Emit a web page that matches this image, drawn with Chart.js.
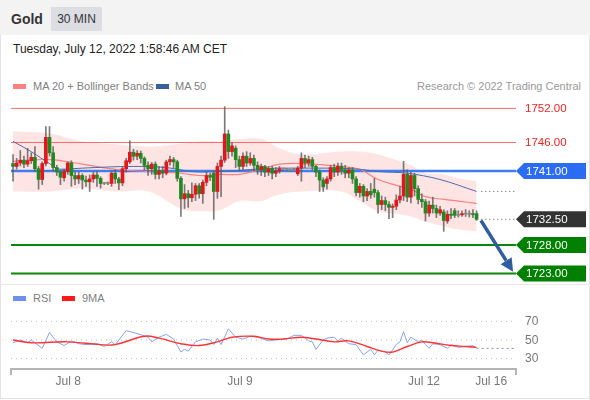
<!DOCTYPE html>
<html>
<head>
<meta charset="utf-8">
<script src="https://cdn.jsdelivr.net/npm/chart.js@4.4.0/dist/chart.umd.min.js"></script>
<style>
  html,body{margin:0;padding:0;background:#fff}
  body{width:590px;height:400px;position:relative;overflow:hidden;font-family:"Liberation Sans",Arial,sans-serif}
  .abs{position:absolute;white-space:nowrap}
  #frame{left:0;top:0;width:588px;height:397px;border:1px solid #e4e4e4}
  #head{left:0;top:0;width:590px;height:35px;background:#f3f3f3}
  #title{left:11px;top:11px;font-size:14px;line-height:16px;font-weight:bold;color:#333}
  #tf{left:51px;top:7px;width:51px;height:24px;line-height:24px;text-align:center;background:#dcdee3;font-size:12px;color:#333}
  #date{left:13px;top:42px;font-size:12px;line-height:14px;color:#222}
  .leg{font-size:11px;line-height:12px;color:#808080}
  .sw{width:13px;height:5px}
  #sep{left:0;top:284px;width:590px;height:1px;background:#e8e8e8}
  canvas{position:absolute;left:0}
</style>
</head>
<body>
<div id="frame" class="abs"></div>
<div id="head" class="abs"></div>
<div id="title" class="abs">Gold</div>
<div id="tf" class="abs">30 MIN</div>
<div id="date" class="abs">Tuesday, July 12, 2022 1:58:46 AM CET</div>

<div class="abs sw" style="left:13px;top:84px;background:#ff8080"></div>
<div class="abs leg" style="left:33px;top:80px">MA 20 + Bollinger Bands</div>
<div class="abs sw" style="left:156px;top:84px;background:#3a5f9f"></div>
<div class="abs leg" style="left:175px;top:80px">MA 50</div>
<div class="abs leg" style="right:9px;top:80px;color:#9a9a9a">Research © 2022 Trading Central</div>

<div id="sep" class="abs"></div>
<div class="abs sw" style="left:13px;top:296px;background:#6f8ff0"></div>
<div class="abs leg" style="left:33px;top:292px">RSI</div>
<div class="abs sw" style="left:62px;top:296px;background:#ff1a1a"></div>
<div class="abs leg" style="left:82px;top:292px">9MA</div>

<canvas id="price" width="590" height="190" style="top:95px"></canvas>
<canvas id="rsi" width="590" height="92" style="top:305px"></canvas>

<script>
// 30 min candles, oldest first
const opens = [
  1742.3, 1741.8, 1742.4, 1742.9, 1742.2, 1742.8, 1743.4, 1741.4, 1739.5, 1742.3,
  1746.9, 1744.2, 1741.6, 1740.8, 1739.8, 1740.9, 1742.4, 1740.2, 1739.6, 1740.2,
  1739.4, 1739.1, 1739.6, 1740.3, 1739.7, 1738.8, 1738.9, 1738.8, 1740.6, 1739.6,
  1738.9, 1741.4, 1742.6, 1744.3, 1743.6, 1744.1, 1743.2, 1742.0, 1741.4, 1742.2,
  1740.4, 1741.0, 1740.6, 1742.6, 1743.0, 1742.6, 1739.7, 1736.1, 1737.0, 1736.3,
  1736.9, 1738.4, 1737.0, 1739.0, 1740.2, 1740.6, 1737.4, 1741.8, 1742.9, 1747.5,
  1744.4, 1745.0, 1743.0, 1741.8, 1743.6, 1742.4, 1743.2, 1742.0, 1741.2, 1741.8,
  1740.8, 1741.4, 1740.6, 1741.0, 1741.4, 1741.3, 1741.2, 1741.1, 1740.5, 1741.5,
  1743.2, 1742.4, 1743.0, 1741.8, 1740.8, 1739.4, 1738.8, 1739.6, 1741.6, 1740.8,
  1741.8, 1741.2, 1740.6, 1741.2, 1739.6, 1737.2, 1738.3, 1736.6, 1737.4, 1737.8,
  1737.2, 1735.1, 1735.8, 1735.1, 1734.6, 1734.8, 1735.9, 1736.6, 1740.4, 1736.4,
  1740.2, 1737.9, 1736.0, 1735.6, 1733.6, 1735.0, 1734.4, 1733.6, 1733.8, 1732.2,
  1733.4, 1734.0, 1733.2, 1733.3, 1733.5, 1733.4, 1733.5, 1733.5
];
const highs = [
  1743.9, 1743.2, 1744.6, 1743.6, 1745.0, 1744.2, 1745.3, 1741.8, 1742.6, 1748.8,
  1748.8, 1745.3, 1742.0, 1741.0, 1741.3, 1742.6, 1742.8, 1740.9, 1740.8, 1740.5,
  1740.1, 1740.3, 1740.8, 1740.9, 1740.0, 1739.0, 1739.1, 1740.9, 1741.2, 1739.9,
  1741.7, 1743.2, 1746.3, 1744.8, 1744.6, 1744.5, 1743.5, 1742.6, 1742.5, 1742.6,
  1741.8, 1741.8, 1742.9, 1743.6, 1743.4, 1742.9, 1740.0, 1738.6, 1737.6, 1738.9,
  1738.8, 1738.8, 1739.4, 1740.8, 1740.6, 1741.0, 1742.4, 1743.6, 1752.3, 1748.2,
  1746.0, 1745.4, 1743.6, 1744.2, 1744.4, 1744.2, 1743.8, 1742.6, 1742.2, 1742.0,
  1741.8, 1741.8, 1741.6, 1741.8, 1741.5, 1741.4, 1741.3, 1741.4, 1741.8, 1744.2,
  1743.8, 1743.6, 1743.4, 1742.0, 1741.2, 1739.8, 1740.0, 1742.0, 1742.2, 1742.4,
  1742.4, 1742.0, 1741.6, 1741.6, 1740.0, 1738.8, 1738.6, 1737.9, 1738.8, 1739.7,
  1737.6, 1736.6, 1736.4, 1735.6, 1735.2, 1736.8, 1738.3, 1742.7, 1741.2, 1740.8,
  1740.6, 1738.4, 1737.0, 1736.0, 1735.7, 1736.4, 1735.0, 1734.8, 1734.2, 1734.0,
  1734.4, 1734.4, 1734.0, 1734.0, 1734.2, 1734.0, 1734.2, 1734.0
];
const lows = [
  1739.2, 1741.3, 1741.9, 1741.6, 1741.8, 1742.3, 1740.9, 1737.8, 1738.6, 1741.9,
  1743.6, 1741.0, 1740.2, 1738.6, 1739.2, 1740.4, 1738.3, 1738.6, 1738.8, 1737.8,
  1738.3, 1737.4, 1739.0, 1738.3, 1738.0, 1738.6, 1738.6, 1738.3, 1738.8, 1737.7,
  1738.4, 1740.8, 1742.3, 1742.9, 1743.0, 1742.4, 1741.2, 1740.2, 1740.4, 1739.6,
  1739.6, 1739.8, 1740.3, 1742.0, 1741.6, 1739.2, 1733.0, 1734.4, 1734.6, 1735.6,
  1735.8, 1736.2, 1735.3, 1738.4, 1739.3, 1732.5, 1736.2, 1736.5, 1742.5, 1743.2,
  1743.6, 1741.6, 1741.2, 1741.2, 1741.8, 1742.0, 1741.0, 1740.4, 1740.2, 1740.0,
  1740.2, 1739.6, 1740.0, 1740.6, 1741.1, 1741.1, 1741.0, 1741.0, 1740.2, 1739.2,
  1741.6, 1741.8, 1741.2, 1740.0, 1737.4, 1737.4, 1737.8, 1739.2, 1740.0, 1740.2,
  1740.4, 1739.8, 1739.8, 1738.8, 1736.6, 1736.4, 1735.6, 1735.8, 1736.2, 1736.4,
  1733.6, 1734.2, 1734.0, 1732.6, 1732.8, 1734.2, 1735.4, 1735.8, 1735.6, 1735.4,
  1736.6, 1735.2, 1734.6, 1732.2, 1733.0, 1733.6, 1732.8, 1733.2, 1730.4, 1731.8,
  1732.6, 1732.8, 1732.9, 1733.0, 1733.0, 1732.9, 1732.8, 1732.3
];
const closes = [
  1741.8, 1742.4, 1742.9, 1742.2, 1742.8, 1743.4, 1741.4, 1739.5, 1742.3, 1746.9,
  1744.2, 1741.6, 1740.8, 1739.9, 1740.9, 1742.4, 1740.2, 1739.6, 1740.2, 1739.4,
  1739.1, 1739.6, 1740.3, 1739.7, 1738.8, 1738.8, 1738.8, 1740.6, 1739.6, 1738.9,
  1741.4, 1742.8, 1744.3, 1743.6, 1744.1, 1743.2, 1742.0, 1741.4, 1742.2, 1740.4,
  1741.0, 1740.6, 1742.6, 1743.0, 1742.6, 1739.7, 1736.1, 1737.0, 1736.3, 1736.9,
  1738.4, 1737.0, 1739.0, 1740.2, 1739.9, 1737.4, 1741.8, 1742.9, 1747.5, 1744.4,
  1745.4, 1743.0, 1741.8, 1743.6, 1742.4, 1743.2, 1742.0, 1741.2, 1741.8, 1740.8,
  1741.4, 1740.6, 1741.0, 1741.4, 1741.3, 1741.2, 1741.1, 1741.2, 1741.5, 1743.2,
  1742.4, 1743.0, 1741.8, 1740.8, 1739.4, 1738.2, 1739.6, 1741.6, 1740.8, 1741.8,
  1741.2, 1740.6, 1741.2, 1739.6, 1737.2, 1738.3, 1736.6, 1737.4, 1736.8, 1737.2,
  1735.1, 1735.8, 1735.1, 1734.6, 1734.8, 1735.9, 1736.6, 1740.4, 1736.4, 1740.2,
  1737.9, 1736.0, 1735.6, 1733.6, 1735.0, 1734.4, 1733.6, 1734.2, 1732.3, 1733.4,
  1733.2, 1733.2, 1733.3, 1733.5, 1733.4, 1733.5, 1733.3, 1732.5
];

// indicators, sampled at candle index
const bandIdx   = [0, 10, 19, 28, 37, 46, 51, 57, 62, 68, 73, 79, 90, 95, 100, 106, 109, 113, 118, 122, 127];
const upperBand = [1748.0, 1747.6, 1746.2, 1745.7, 1745.3, 1745.8, 1746.2, 1746.2, 1746.6, 1746.6, 1745.0, 1743.9, 1744.4, 1744.4, 1743.9, 1742.7, 1742.0, 1740.6, 1740.4, 1739.7, 1739.2];
const lowerBand = [1737.4, 1737.4, 1737.9, 1737.4, 1737.4, 1734.4, 1733.9, 1734.2, 1735.7, 1735.7, 1736.9, 1737.4, 1737.4, 1735.7, 1733.9, 1733.4, 1733.0, 1732.1, 1731.3, 1730.7, 1730.4];
const ma20      = [1742.7, 1743.0, 1742.2, 1741.3, 1740.9, 1740.6, 1740.2, 1740.4, 1740.4, 1741.3, 1742.2, 1742.3, 1741.8, 1741.3, 1739.5, 1738.3, 1737.8, 1736.5, 1736.0, 1735.7, 1735.3];
const ma50Idx   = [0, 5, 10, 13, 19, 33, 42, 51, 57, 73, 87, 95, 100, 108, 117, 127];
const ma50      = [1746.2, 1744.4, 1742.3, 1741.3, 1741.5, 1741.8, 1741.6, 1740.8, 1740.9, 1741.5, 1741.5, 1741.3, 1740.9, 1740.6, 1739.5, 1737.4];

// levels
const resistLevels = [1752.00, 1746.00];
const pivotLevel = 1741.00;
const lastPrice = 1732.50;
const supportLevels = [1728.00, 1723.00];
const arrowFrom = [128.2, 1732.3];
const arrowTo = [137.0, 1723.3];

// RSI panel
const rsiIdx = [0,2,4,5,8,10,12,14,16,18,20,23,25,27,28,31,34,37,38,40,42,44,46,47,48,50,52,54,55,56,57,59,61,63,65,67,70,72,75,77,79,81,82,83,85,86,88,89,90,92,94,96,98,99,100,102,103,105,106,107,108,109,111,112,113,114,115,117,119,120,122,124,126,127];
const rsiValues = [47,50,47,50,41,58,48,44,49,46,45,46,43,48,45,60,57,53,48,53,56,51,37,40,38,48,51,50,45,52,45,62,53,51,54,53,49,50,51,55,55,49,48,40,50,52,53,49,52,46,45,34,40,34,39,37,34,45,48,59,47,53,48,50,45,41,46,45,41,45,42,43,44,41];
const rsiMaIdx = [0,5,15,24,28,36,40,46,51,56,60,66,70,74,79,83,88,92,97,101,104,108,112,115,120,124,127];
const rsiMa = [50,47,48,45,45,54,52,46,44,48,53,54,51,51,53,51,48,49,43,38,37,43,48,47,44,43,42];
const rsiTicks = [70, 50, 30];

// x axis
const dayIdx = [15.1, 62.2, 112.6, 131];
const dayLabels = ['Jul 8', 'Jul 9', 'Jul 12', 'Jul 16'];

const xMin = -0.55, xMax = 137.8;
const extStart = 128.3;

let pts = (xs, ys) => xs.map((v, i) => ({x: v, y: ys[i]}));
let hline = (v, color, w, dash, from) => ({
  type: 'line', data: [{x: from ?? xMin, y: v}, {x: xMax, y: v}],
  borderColor: color, borderWidth: w, borderDash: dash || [], pointRadius: 0, order: 15
});

let candleIdx = closes.map((_, i) => i);
let candleColor = closes.map((c, i) => Math.abs(c - opens[i]) < 0.15 ? '#8a8a8a' : (c > opens[i] ? '#e3161c' : '#1f8a1f'));

function tag(ctx, px, py, color, text) {
  ctx.fillStyle = color;
  ctx.beginPath();
  ctx.moveTo(px, py);
  ctx.lineTo(px + 8, py - 8);
  ctx.lineTo(px + 70, py - 8);
  ctx.lineTo(px + 70, py + 8);
  ctx.lineTo(px + 8, py + 8);
  ctx.closePath();
  ctx.fill();
  ctx.fillStyle = '#fff';
  ctx.fillText(text, px + 10, py + 0.5);
}

const priceLabels = {
  id: 'priceLabels',
  afterDatasetsDraw(chart) {
    const {ctx, scales: {x, y}} = chart;
    ctx.save();
    ctx.font = '11.5px "Liberation Sans", Arial, sans-serif';
    ctx.textBaseline = 'middle';
    ctx.textAlign = 'left';
    resistLevels.forEach(v => {
      ctx.fillStyle = '#f0241f';
      ctx.fillText(v.toFixed(2), x.right + 9, y.getPixelForValue(v) + 0.5);
    });
    tag(ctx, x.right, y.getPixelForValue(pivotLevel), '#2a6cf3', pivotLevel.toFixed(2));
    tag(ctx, x.right, y.getPixelForValue(lastPrice), '#333333', lastPrice.toFixed(2));
    supportLevels.forEach(v => tag(ctx, x.right, y.getPixelForValue(v), '#008000', v.toFixed(2)));

    // arrow
    let x0 = x.getPixelForValue(arrowFrom[0]), y0 = y.getPixelForValue(arrowFrom[1]);
    let x1 = x.getPixelForValue(arrowTo[0]), y1 = y.getPixelForValue(arrowTo[1]);
    let a = Math.atan2(y1 - y0, x1 - x0), hl = 13, hw = 6.5;
    let bx = x1 - hl * Math.cos(a), by = y1 - hl * Math.sin(a);
    ctx.strokeStyle = '#2f5e9e';
    ctx.fillStyle = '#2f5e9e';
    ctx.lineWidth = 3.5;
    ctx.beginPath(); ctx.moveTo(x0, y0); ctx.lineTo(bx, by); ctx.stroke();
    ctx.beginPath();
    ctx.moveTo(x1, y1);
    ctx.lineTo(bx + hw * Math.sin(a), by - hw * Math.cos(a));
    ctx.lineTo(bx - hw * Math.sin(a), by + hw * Math.cos(a));
    ctx.closePath(); ctx.fill();
    ctx.restore();
  }
};

new Chart(document.getElementById('price').getContext('2d'), {
  type: 'bar',
  data: {
    datasets: [
      { type: 'line', data: pts(bandIdx, upperBand), borderWidth: 0, pointRadius: 0, tension: 0.4,
        fill: '+1', backgroundColor: 'rgba(255,165,165,0.3)', order: 30 },
      { type: 'line', data: pts(bandIdx, lowerBand), borderWidth: 0, pointRadius: 0, tension: 0.4, order: 31 },
      hline(resistLevels[0], '#ff6b6b', 1),
      hline(resistLevels[1], '#ff6b6b', 1),
      hline(pivotLevel, '#3f7ef0', 2.5),
      hline(supportLevels[0], '#0a870a', 2),
      hline(supportLevels[1], '#0a870a', 2),
      hline(lastPrice, '#555', 1, [1, 3], extStart),
      hline(ma50[ma50.length - 1], '#555', 1, [1, 3], extStart),
      { type: 'line', data: pts(bandIdx, ma20), borderColor: '#ff8080', borderWidth: 1.2, pointRadius: 0,
        tension: 0.4, order: 12 },
      { type: 'line', data: pts(ma50Idx, ma50), borderColor: '#4a6cad', borderWidth: 1, pointRadius: 0,
        cubicInterpolationMode: 'monotone', order: 11 },
      { data: candleIdx.map(i => ({x: i, y: [lows[i], highs[i]]})), backgroundColor: 'rgba(90,90,90,0.8)',
        barThickness: 1, grouped: false, order: 2 },
      { data: candleIdx.map(i => ({x: i, y: [opens[i], closes[i]]})), backgroundColor: candleColor,
        barThickness: 3, minBarLength: 1, grouped: false, order: 1 }
    ]
  },
  options: {
    responsive: false,
    animation: false,
    events: [],
    layout: { padding: { left: 11, right: 74, top: 0, bottom: 0 } },
    plugins: { legend: { display: false }, tooltip: { enabled: false } },
    scales: {
      x: { type: 'linear', display: false, offset: false, min: xMin, max: xMax },
      y: { display: false, min: 1720.96, max: 1754.35 }
    }
  },
  plugins: [priceLabels]
});

const rsiAxis = {
  id: 'rsiAxis',
  afterDatasetsDraw(chart) {
    const {ctx, chartArea: area, scales: {x, y}} = chart;
    ctx.save();
    let yb = area.bottom;
    ctx.strokeStyle = '#b4b4b4';
    ctx.lineWidth = 2;
    ctx.beginPath();
    ctx.moveTo(area.left, yb + 6); ctx.lineTo(area.left, yb);
    ctx.lineTo(area.right, yb); ctx.lineTo(area.right, yb + 6);
    ctx.stroke();
    ctx.font = '12px "Liberation Sans", Arial, sans-serif';
    ctx.fillStyle = '#777';
    ctx.textBaseline = 'middle';
    ctx.textAlign = 'center';
    dayIdx.forEach((d, i) => ctx.fillText(dayLabels[i], x.getPixelForValue(d), yb + 13));
    ctx.textAlign = 'left';
    rsiTicks.forEach(t => ctx.fillText(String(t), area.right + 9, y.getPixelForValue(t) + 0.5));
    ctx.restore();
  }
};

new Chart(document.getElementById('rsi').getContext('2d'), {
  type: 'line',
  data: {
    datasets: [
      ...rsiTicks.map(t => ({ data: [{x: xMin, y: t}, {x: xMax, y: t}], borderColor: '#bdbdbd', borderWidth: 1,
        borderDash: [1, 4], pointRadius: 0, order: 10 })),
      { data: [{x: rsiIdx[rsiIdx.length - 1], y: rsiValues[rsiValues.length - 1]}, {x: xMax, y: rsiValues[rsiValues.length - 1]}],
        borderColor: '#6f8ff0', borderWidth: 1, borderDash: [2, 3], pointRadius: 0, order: 5 },
      { data: pts(rsiIdx, rsiValues), borderColor: '#86a2f2', borderWidth: 1, pointRadius: 0, order: 2 },
      { data: pts(rsiMaIdx, rsiMa), borderColor: '#ff3434', borderWidth: 1.4, pointRadius: 0, tension: 0.4, order: 1 }
    ]
  },
  options: {
    responsive: false,
    animation: false,
    events: [],
    layout: { padding: { left: 11, right: 74, top: 0, bottom: 28 } },
    plugins: { legend: { display: false }, tooltip: { enabled: false } },
    scales: {
      x: { type: 'linear', display: false, offset: false, min: xMin, max: xMax },
      y: { display: false, min: 18.8, max: 87.6 }
    }
  },
  plugins: [rsiAxis]
});
</script>
</body>
</html>
